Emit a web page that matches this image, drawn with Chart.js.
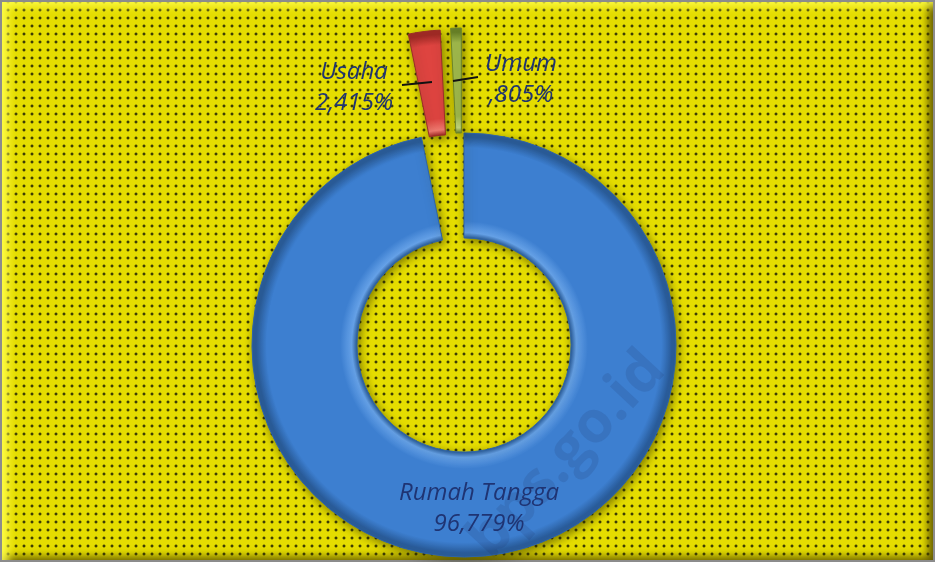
<!DOCTYPE html>
<html>
<head>
<meta charset="utf-8">
<script src="https://cdn.jsdelivr.net/npm/chart.js@4.4.0/dist/chart.umd.min.js"></script>
<style>
html, body { margin: 0; padding: 0; background: #fff; }
#wrap {
  position: relative; width: 935px; height: 562px;
  background-color: #e5dd00;
  background-image: radial-gradient(circle at 50% 50%, rgba(30,30,5,0.95) 0, rgba(30,30,5,0.8) 1px, rgba(30,30,5,0) 1.9px);
  background-size: 8px 8px;
  background-position: 4px 6px;
  box-shadow: inset 0 0 0 2px #8c8c8c,
              inset 11px 9px 10px -3px rgba(255,255,80,0.9),
              inset -10px -8px 9px -3px rgba(70,60,0,0.8);
}
canvas { position: absolute; left: 0; top: 0; }
</style>
</head>
<body>
<div id="wrap"><canvas id="grafico" width="935" height="562"></canvas></div>
<script>
// datos
const categorias = ['Rumah Tangga', 'Usaha', 'Umum'];
const porcentajes = [96.779, 2.415, 0.805];
const etiquetas = ['96,779%', '2,415%', ',805%'];

// estilo
const RADIO = 212;
const CUTOUT = 0.505;
const separacion = [0, 104, 105]; // desplazamiento de las porciones separadas (px)
const colores = [
  { base: '#3d7fd0', claro: '#66a2e8', oscuro: '#2a5d9c', borde: '#2d63a8' },
  { base: '#de4440', claro: '#f27c72', oscuro: '#a42a26', borde: '#9a2c28' },
  { base: '#a3bd4e', claro: '#cade84', oscuro: '#6a8428', borde: '#6a842c' }
];

// mueve las porciones separadas sin cambiar su tamaño y pone el degradado
const explotar = {
  id: 'explotar',
  afterUpdate(chart) {
    const ctx = chart.ctx;
    chart.getDatasetMeta(0).data.forEach((arco, i) => {
      const medio = (arco.startAngle + arco.endAngle) / 2;
      arco.x += Math.cos(medio) * separacion[i];
      arco.y += Math.sin(medio) * separacion[i];
      const c = colores[i];
      const g = ctx.createRadialGradient(arco.x, arco.y, arco.innerRadius, arco.x, arco.y, arco.outerRadius);
      g.addColorStop(0, c.oscuro);
      g.addColorStop(0.05, c.claro);
      g.addColorStop(0.16, c.base);
      g.addColorStop(0.86, c.base);
      g.addColorStop(0.96, c.oscuro);
      g.addColorStop(1, c.oscuro);
      arco.options.backgroundColor = g;
    });
  }
};

// sombra bajo las porciones
const sombra = {
  id: 'sombra',
  beforeDatasetsDraw(chart) {
    const ctx = chart.ctx;
    ctx.save();
    ctx.shadowColor = 'rgba(40,40,0,0.55)';
    ctx.shadowBlur = 10;
    ctx.shadowOffsetX = 2;
    ctx.shadowOffsetY = 3;
  },
  afterDatasetsDraw(chart) {
    chart.ctx.restore();
  }
};

// etiquetas y marca de agua
const textos = {
  id: 'textos',
  afterDraw(chart) {
    const ctx = chart.ctx;
    const arco = chart.getDatasetMeta(0).data[0];
    const cx = arco.x, cy = arco.y;

    ctx.save();
    ctx.translate(cx + 103, cy + 110);
    ctx.rotate(-47 * Math.PI / 180);
    ctx.font = 'bold 58px "Open Sans"';
    ctx.fillStyle = 'rgba(25,45,95,0.14)';
    ctx.textAlign = 'center';
    ctx.textBaseline = 'middle';
    ctx.fillText('bps.go.id', 0, 0);
    ctx.restore();

    // posicion de cada etiqueta respecto al centro
    const pos = [
      { x: 15, y: 155 },
      { x: -110, y: -266 },
      { x: 57, y: -274 }
    ];
    ctx.save();
    ctx.font = 'italic 24px "Open Sans"';
    ctx.fillStyle = '#1f3473';
    ctx.textAlign = 'center';
    ctx.textBaseline = 'alphabetic';
    categorias.forEach((cat, i) => {
      ctx.fillText(cat, cx + pos[i].x, cy + pos[i].y);
      ctx.fillText(etiquetas[i], cx + pos[i].x, cy + pos[i].y + 31);
    });

    // lineas guia
    ctx.strokeStyle = '#111';
    ctx.lineWidth = 2;
    ctx.beginPath();
    ctx.moveTo(cx - 62, cy - 260); ctx.lineTo(cx - 32, cy - 263);
    ctx.moveTo(cx - 11, cy - 264); ctx.lineTo(cx + 14, cy - 268);
    ctx.stroke();
    ctx.restore();
  }
};

new Chart(document.getElementById('grafico'), {
  type: 'doughnut',
  data: {
    labels: categorias,
    datasets: [{
      data: porcentajes,
      backgroundColor: (context) => colores[context.dataIndex].base,
      borderColor: colores.map(c => c.borde),
      borderWidth: 1,
      hoverOffset: 0,
      clip: false
    }]
  },
  options: {
    responsive: false,
    animation: false,
    events: [],
    radius: RADIO,
    cutout: (CUTOUT * 100) + '%',
    rotation: 0,
    layout: { padding: { top: 128, right: 7, left: 0, bottom: 0 } },
    plugins: {
      legend: { display: false },
      tooltip: { enabled: false }
    }
  },
  plugins: [explotar, sombra, textos]
});
</script>
</body>
</html>
